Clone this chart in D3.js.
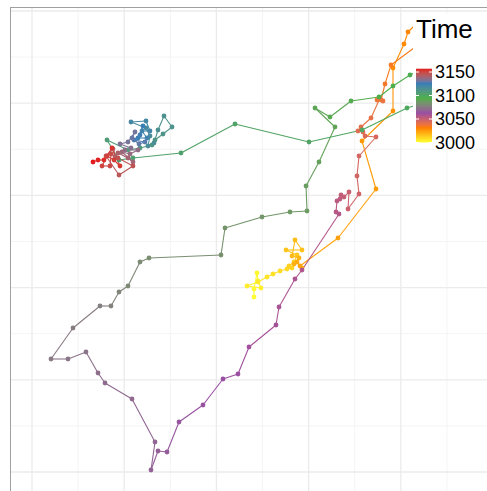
<!DOCTYPE html>
<html><head><meta charset="utf-8">
<script src="https://cdn.jsdelivr.net/npm/d3@7"></script>
<style>body{margin:0;background:#fff}svg{display:block}</style>
</head><body>
<svg id="c" width="487" height="491"></svg>
<script>
// Track positions (east / north offsets in chart units) and their time stamps
const east = [222,222,225,226,229,215,226,235,241,248,255,260,257,262,265,254,270,263,260,267,262,265,270,268,
306,344,330,361,361,372,376,388,400,390,359,353,349,345,351,348,339,329,326,331,333,344,327,325,327,316,317,312,309,308,305,304,307,
270,263,247,244,217,206,191,171,147,135,126,119,123,100,73,66,54,36,19,41,68,79,87,96,108,117,189,193,230,258,275,274,287,303,283,298,319,347,361,378,408,418,375,330,277,203,149,
101,87,75,96,108,120,123,131,140,132,126,122,116,118,114,99,114,118,110,115,106,111,108,102,113,107,100,103,96,88,99,93,106,98,90,101,96,86,83,81,74,87,101,86,79,78,70,75,82,88,80,72,66,61];
const north = [175,183,199,191,184,186,190,195,198,201,203,204,206,210,217,222,222,232,216,214,208,210,204,206,
234,283,331,361,404,428,440,452,437,430,407,388,372,372,371,374,354,345,341,340,336,335,316,296,278,263,280,275,277,273,271,260,258,
202,193,165,147,125,98,93,67,50,20,21,2,30,73,89,99,120,113,113,144,166,166,180,186,210,214,217,244,255,260,261,286,310,345,364,355,371,375,386,397,412,377,364,342,330,348,319,
314,312,332,322,324,327,332,338,345,356,342,329,326,336,344,350,351,341,341,334,334,346,337,332,330,328,334,340,330,328,324,322,322,318,320,310,314,319,315,323,316,297,306,314,318,306,306,316,312,306,324,312,312,310];
const time = [3000,3001,3002,3003,3004,3005,3006,3007,3008,3009,3010,3011,3012,3013,3014,3015,3016,3017,3018,3019,
3020,3021,3022,3023,3024,3025,3026,3027,3028,3029,3030,3031,3032,3033,3034,3035,3036,3037,3038,3039,
3040,3041,3042,3043,3044,3045,3046,3047,3048,3049,3050,3051,3052,3053,3054,3055,3056,3057,3058,3059,
3060,3061,3062,3063,3064,3065,3066,3067,3068,3069,3070,3071,3072,3073,3074,3075,3076,3077,3078,3079,
3080,3081,3082,3083,3084,3085,3086,3087,3088,3089,3090,3091,3092,3093,3094,3095,3096,3097,3098,3099,
3100,3101,3102,3103,3104,3105,3106,3107,3108,3109,3110,3111,3112,3113,3114,3115,3116,3117,3118,3119,
3120,3121,3122,3123,3124,3125,3126,3127,3128,3129,3130,3131,3132,3133,3134,3135,3136,3137,3138,3139,
3140,3141,3142,3143,3144,3145,3146,3147,3148,3149,3150,3151,3152,3153,3154,3155,3156,3157];
const legendTicks = [3000,3050,3100,3150];
const palette = ["#FFFF33","#FF7F00","#984EA3","#4DAF4A","#377EB8","#E41A1C"];

const W = 487, H = 491;
const svg = d3.select("#c");
const x = d3.scaleLinear().domain([0,461]).range([32,493]);
const y = d3.scaleLinear().domain([0,461]).range([472,11]);
const tMin = d3.min(time), tMax = d3.max(time);
const color = d3.scaleLinear()
  .domain(palette.map((_,i)=> tMin + i*(tMax-tMin)/(palette.length-1)))
  .range(palette).interpolate(d3.interpolateLab);

const pts = time.map((t,i)=>({t, e:east[i], n:north[i]}));

// panel
svg.append("clipPath").attr("id","pc").append("rect").attr("x",10).attr("y",7).attr("width",W-10).attr("height",H-7);
const g = svg.append("g").attr("clip-path","url(#pc)");
const step = 461/5;
const major = d3.range(0, 6).map(i=>i*step);
const minor = d3.range(0, 6).map(i=>i*step - step/2);
[[minor,"#f3f3f3",0.9],[major,"#ebebeb",1.3]].forEach(([vals,col,w])=>{
  g.selectAll(null).data(vals).enter().append("line")
    .attr("x1",d=>x(d)).attr("x2",d=>x(d)).attr("y1",0).attr("y2",H)
    .attr("stroke",col).attr("stroke-width",w);
  g.selectAll(null).data(vals).enter().append("line")
    .attr("y1",d=>y(d)).attr("y2",d=>y(d)).attr("x1",0).attr("x2",W)
    .attr("stroke",col).attr("stroke-width",w);
});

// path segments coloured by starting time
const segs = pts.slice(0,-1).map((p,i)=>[p,pts[i+1]]);
g.selectAll(null).data(segs).enter().append("line")
  .attr("x1",d=>x(d[0].e)).attr("y1",d=>y(d[0].n))
  .attr("x2",d=>x(d[1].e)).attr("y2",d=>y(d[1].n))
  .attr("stroke",d=>color(d[0].t)).attr("stroke-width",1.1).attr("stroke-linecap","butt");
g.selectAll(null).data(pts).enter().append("circle")
  .attr("cx",d=>x(d.e)).attr("cy",d=>y(d.n)).attr("r",2.4)
  .attr("fill",d=>color(d.t));

// panel edges
svg.append("line").attr("x1",10).attr("x2",W).attr("y1",7.5).attr("y2",7.5).attr("stroke","#a0a0a0").attr("stroke-width",1);
svg.append("line").attr("x1",10.5).attr("x2",10.5).attr("y1",7).attr("y2",H).attr("stroke","#a0a0a0").attr("stroke-width",1);

// legend
const lg = svg.append("g");
lg.append("rect").attr("x",413).attr("y",14).attr("width",W-413).attr("height",134).attr("fill","#fff");
lg.append("text").attr("x",416).attr("y",37.5).text("Time")
  .attr("font-family","Liberation Sans, Arial, sans-serif").attr("font-size",26).attr("fill","#000");
const ly = d3.scaleLinear().domain([3000,3150]).range([142.5,72]);
const barTop = ly(tMax), barBot = ly(tMin);
const grad = svg.append("defs").append("linearGradient").attr("id","gr")
  .attr("x1",0).attr("x2",0).attr("y1",1).attr("y2",0);
d3.range(0,1.0001,0.02).forEach(f=>{
  grad.append("stop").attr("offset",f).attr("stop-color",color(tMin+f*(tMax-tMin)));
});
lg.append("rect").attr("x",416).attr("y",barTop).attr("width",16).attr("height",barBot-barTop).attr("fill","url(#gr)");
legendTicks.forEach(t=>{
  lg.append("line").attr("x1",416).attr("x2",419).attr("y1",ly(t)).attr("y2",ly(t)).attr("stroke","#fff").attr("stroke-width",1);
  lg.append("line").attr("x1",429).attr("x2",432).attr("y1",ly(t)).attr("y2",ly(t)).attr("stroke","#fff").attr("stroke-width",1);
  lg.append("text").attr("x",435).attr("y",ly(t)).attr("dy","0.36em").text(t)
    .attr("font-family","Liberation Sans, Arial, sans-serif").attr("font-size",18).attr("fill","#000");
});
</script>
</body></html>
